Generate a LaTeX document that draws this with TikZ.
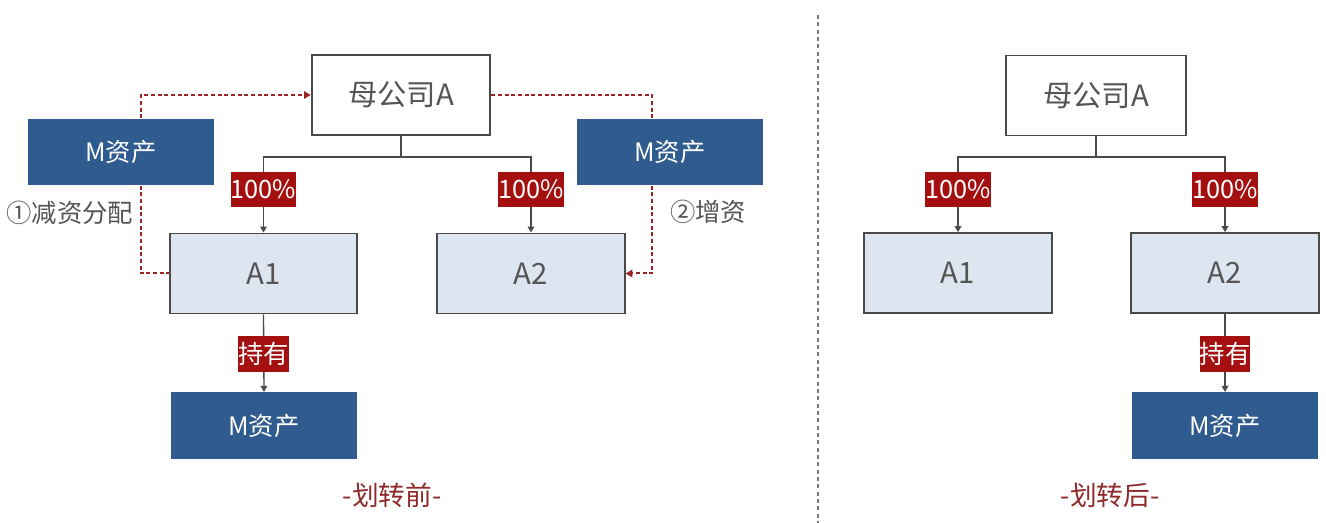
\documentclass[tikz,border=0pt]{standalone}
\usepackage{fontspec}
\setmainfont{Noto Sans CJK SC}
\usetikzlibrary{arrows.meta}
\definecolor{darkblue}{HTML}{2F5B8F}
\definecolor{lightblue}{HTML}{DCE5F0}
\definecolor{bordergray}{HTML}{4A4A4A}
\definecolor{labelred}{HTML}{A3100F}
\definecolor{dashred}{HTML}{9C2424}
\definecolor{textgray}{HTML}{555555}
\definecolor{captionred}{HTML}{8E2A2A}
\tikzset{
  parentbox/.style={draw=bordergray, line width=1.4pt, fill=white, text=textgray,
    minimum width=134pt, minimum height=60pt, inner sep=0pt,
    font=\fontsize{22}{24}\selectfont},
  subbox/.style={draw=bordergray, line width=1.4pt, fill=lightblue, text=textgray,
    minimum width=140.5pt, minimum height=60pt, inner sep=0pt,
    font=\fontsize{22}{24}\selectfont},
  assetbox/.style={fill=darkblue, text=white, minimum width=140pt, minimum height=50pt,
    inner sep=0pt, font=\fontsize{19}{21}\selectfont},
  tag/.style={fill=labelred, text=white, inner sep=0pt, font=\fontsize{19}{21}\selectfont},
  pcttag/.style={tag, minimum width=48pt, minimum height=26pt},
  holdtag/.style={tag, minimum width=37pt, minimum height=27pt},
  solidlink/.style={draw=bordergray, line width=1pt, -{Triangle[width=5pt,length=4.5pt]}},
  plainlink/.style={draw=bordergray, line width=1pt},
  redlink/.style={draw=dashred, line width=1.5pt, dash pattern=on 3pt off 2pt},
  redarrow/.style={redlink, -{Triangle[width=5.5pt,length=5pt]}},
  note/.style={text=textgray, inner sep=0pt, font=\fontsize{19}{21}\selectfont},
  caption/.style={text=captionred, inner sep=0pt, font=\fontsize{20}{22}\selectfont},
}
\begin{document}
\begin{tikzpicture}[x=0.75pt,y=-0.75pt]
\useasboundingbox (0,0) rectangle (1326,523);
\fill[white] (0,0) rectangle (1326,523);
% ---------- left: before transfer ----------
\node[parentbox] (pa) at (401,95) {母公司A};
\node[assetbox] (mL) at (121,152) {M资产};
\node[assetbox] (mR) at (670,152) {M资产};
\node[subbox] (a1) at (263.5,273.5) {A1};
\node[subbox] (a2) at (531,273.5) {A2};
\node[assetbox] (mB) at (264,425.5) {M资产};
\coordinate (jL) at (401,157);
\draw[plainlink] (pa.south) -- (jL);
\draw[solidlink] (jL) -| (a1.north);
\draw[solidlink] (jL) -| (a2.north);
\draw[solidlink] (a1.south) -- (mB.north);
\node[pcttag] (p1) at (263.5,189.5) {100\%};
\node[pcttag] (p2) at (531,189.5) {100\%};
\node[holdtag] (h1) at (263.5,354) {持有};
% dashed flows
\draw[redarrow] ([xshift=15pt]mL.north) |- (pa.west);
\draw[redlink] ([xshift=15pt]mL.south) |- (a1.west);
\draw[redlink] (pa.east) -| ([xshift=-13.5pt]mR.north);
\draw[redarrow] ([xshift=-13.5pt]mR.south) |- (a2.east);
\node[note] (n1) at (70,213) {①减资分配};
\node[note] (n2) at (708,212) {②增资};
\node[caption] (c1) at (392,495) {-划转前-};
% divider
\coordinate (dv1) at (818,15);
\coordinate (dv2) at (818,523);
\draw[draw=textgray!80, line width=1pt, dash pattern=on 3pt off 2.5pt] (dv1) -- (dv2);
% ---------- right: after transfer ----------
\node[parentbox, minimum width=135pt] (pb) at (1096,95.5) {母公司A};
\node[subbox] (b1) at (958,273) {A1};
\node[subbox] (b2) at (1225,273) {A2};
\node[assetbox] (mC) at (1225,425.5) {M资产};
\coordinate (jR) at (1096,157);
\draw[plainlink] (pb.south) -- (jR);
\draw[solidlink] (jR) -| (b1.north);
\draw[solidlink] (jR) -| (b2.north);
\draw[solidlink] (b2.south) -- (mC.north);
\node[pcttag] (p3) at (958,189.5) {100\%};
\node[pcttag] (p4) at (1225,189.5) {100\%};
\node[holdtag] (h2) at (1225,354) {持有};
\node[caption] (c2) at (1110,495) {-划转后-};
\end{tikzpicture}
\end{document}
